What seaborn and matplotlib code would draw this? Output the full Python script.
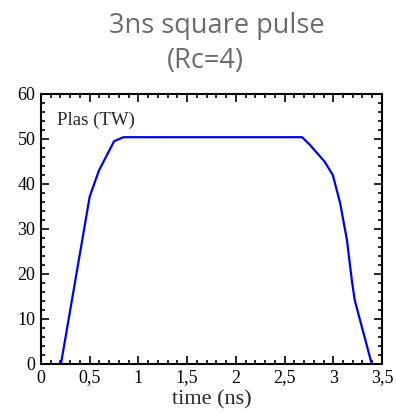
import matplotlib
matplotlib.use("Agg")
import matplotlib.pyplot as plt
import seaborn as sns
import pandas as pd
from matplotlib.ticker import MultipleLocator, FuncFormatter

time_ns = [0.205, 0.50, 0.595, 0.75, 0.845, 2.68, 2.76, 2.91, 2.995, 3.07, 3.14, 3.19, 3.22, 3.395]
power_tw = [0.0, 37.2, 43.0, 49.5, 50.4, 50.4, 48.7, 45.0, 42.0, 35.8, 27.6, 18.7, 14.2, 0.0]
x_ticks = [0, 0.5, 1, 1.5, 2, 2.5, 3, 3.5]
y_ticks = [0, 10, 20, 30, 40, 50, 60]

df = pd.DataFrame({"time": time_ns, "P": power_tw})

sns.set_style("ticks")
plt.rcParams["font.family"] = ["Liberation Serif", "DejaVu Serif"]

fig = plt.figure(figsize=(3.96, 4.15), dpi=100)
ax = fig.add_axes([0.1035, 0.1229, 0.8611, 0.6506])
sns.lineplot(data=df, x="time", y="P", ax=ax, sort=False, color="#0000ee", linewidth=1.6)

ax.set_xlim(0, 3.5)
ax.set_ylim(0, 60)
ax.set_xticks(x_ticks)
ax.set_yticks(y_ticks)
ax.xaxis.set_major_formatter(FuncFormatter(lambda v, p: ("%g" % v).replace(".", ",")))
ax.xaxis.set_minor_locator(MultipleLocator(0.1))
ax.yaxis.set_minor_locator(MultipleLocator(2))
ax.tick_params(which="both", direction="in", top=True, right=True, width=1.2, labelsize=13, colors="black")
ax.tick_params(which="major", length=6, pad=4)
ax.tick_params(which="minor", length=3)
for s in ax.spines.values():
    s.set_linewidth(1.5)
    s.set_color("black")
ax.set_xlabel("time (ns)", fontsize=16, labelpad=2.5)
ax.set_ylabel("")
ax.text(0.16, 54.2, "Plas (TW)", fontsize=13.5, va="center", ha="left")

fig.text(0.547, 0.9205, "3ns square pulse", ha="center", va="baseline",
         fontsize=19.5, color="#6b6b6b", family=["Open Sans", "DejaVu Sans"])
fig.text(0.518, 0.836, "(Rc=4)", ha="center", va="baseline",
         fontsize=19.5, color="#6b6b6b", family=["Open Sans", "DejaVu Sans"])

fig.savefig("out.png", dpi=100)
